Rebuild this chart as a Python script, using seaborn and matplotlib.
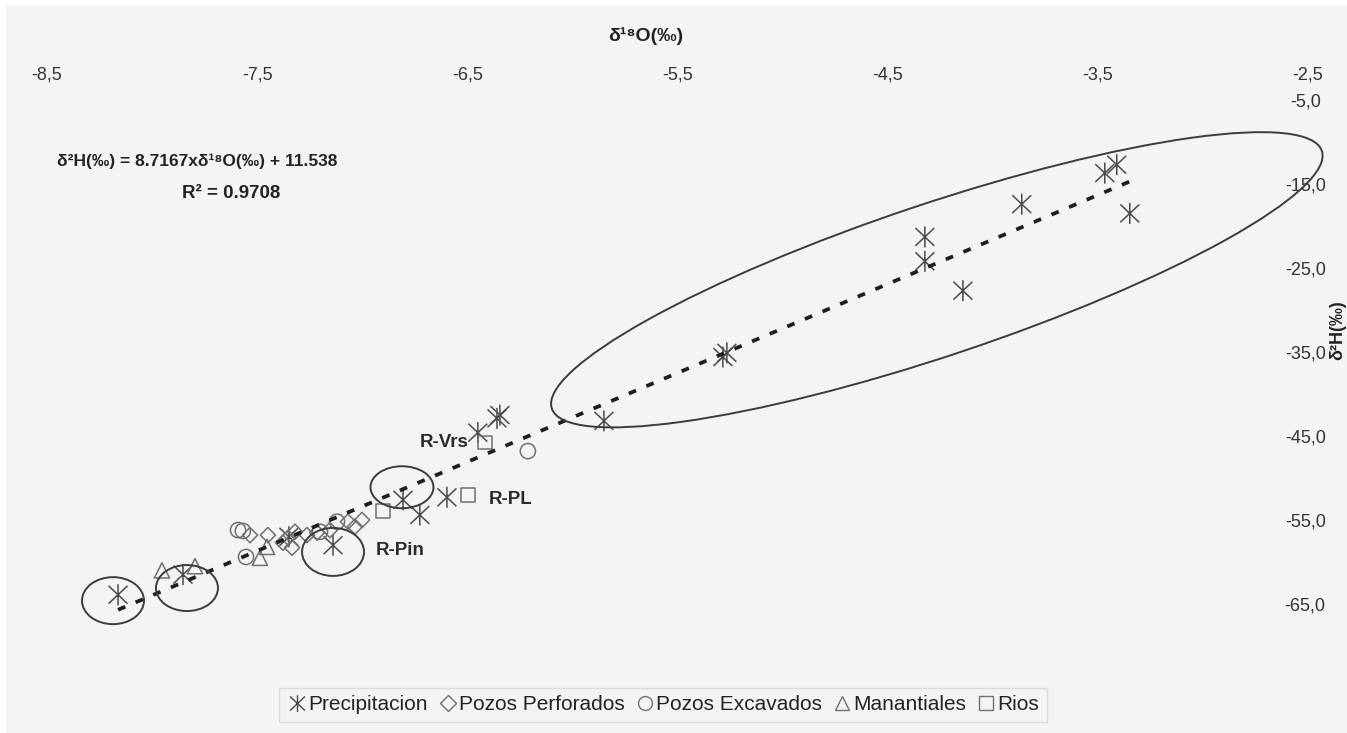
import numpy as np
import pandas as pd
import matplotlib
matplotlib.use("Agg")
import matplotlib.pyplot as plt
import seaborn as sns
from matplotlib.path import Path
from matplotlib.patches import Ellipse, Rectangle
import matplotlib.transforms as mtransforms
from matplotlib.ticker import FuncFormatter, FixedLocator

# ---------------- data ----------------
precip_x = [-8.162, -7.853, -7.349, -7.139, -6.806, -6.726, -6.597, -6.450, -6.359, -6.345,
            -5.850, -5.284, -5.265, -4.323, -4.323, -4.142, -3.862, -3.467, -3.410, -3.348]
precip_y = [-63.9, -61.5, -57.0, -58.0, -52.6, -54.4, -52.3, -44.6, -42.9, -42.5,
            -43.2, -35.6, -35.1, -21.3, -24.2, -27.7, -17.4, -13.7, -12.7, -18.5]

perf_x = [-7.534, -7.449, -7.377, -7.353, -7.320, -7.334, -7.263, -7.215, -7.154, -7.068, -7.001, -7.035]
perf_y = [-56.8, -56.8, -57.7, -57.1, -56.4, -58.3, -56.8, -56.5, -56.2, -55.2, -55.0, -55.8]

exc_x = [-7.591, -7.568, -7.553, -7.201, -7.120, -6.212]
exc_y = [-56.2, -56.3, -59.4, -56.4, -55.2, -46.8]

man_x = [-7.953, -7.796, -7.487, -7.453]
man_y = [-61.0, -60.5, -59.5, -58.2]

rios_x = [-6.416, -6.901, -6.497]
rios_y = [-45.8, -53.9, -52.0]

series_names = ["Precipitacion", "Pozos Perforados", "Pozos Excavados", "Manantiales", "Rios"]

eq_slope = "8.7167"
eq_intercept = "11.538"
r_squared = "0.9708"

x_ticks = [-8.5, -7.5, -6.5, -5.5, -4.5, -3.5, -2.5]
y_ticks = [-65.0, -55.0, -45.0, -35.0, -25.0, -15.0, -5.0]

# highlighted groups (centre in data units)
small_ellipse_x = [-8.186, -7.834, -7.139, -6.811]
small_ellipse_y = [-64.6, -63.1, -58.8, -51.1]
big_ellipse_center = (-4.266, -26.4)

site_labels = ["R-Vrs", "R-PL", "R-Pin"]
site_label_x = [-6.611, -6.293, -6.821]
site_label_y = [-45.8, -52.6, -58.6]

# ---------------- style ----------------
sns.set_theme(style="white")
plt.rcParams["font.family"] = ["Liberation Sans", "DejaVu Sans"]

W, H = 1347, 733
BG = "#f4f4f4"
fig = plt.figure(figsize=(W / 100, H / 100), dpi=100, facecolor="white")
fig.patches.append(Rectangle((6 / W, 0), 1, 1 - 5 / H, transform=fig.transFigure,
                             facecolor=BG, edgecolor="none", zorder=-10))

ax = fig.add_axes([47 / W, 1 - 604 / H, (1308 - 47) / W, (604 - 100) / H])
ax.set_facecolor("none")

# asterisk marker like the spreadsheet one
ast = Path([(0, -1), (0, 1), (-0.9, -0.85), (0.9, 0.85), (-0.9, 0.85), (0.9, -0.85)],
           [Path.MOVETO, Path.LINETO, Path.MOVETO, Path.LINETO, Path.MOVETO, Path.LINETO])

grey = "#707070"
frames = [
    (pd.DataFrame({"x": precip_x, "y": precip_y}), ast, 230, "#4a4a4a", 12),
    (pd.DataFrame({"x": perf_x, "y": perf_y}), "D", 60, grey, 8),
    (pd.DataFrame({"x": exc_x, "y": exc_y}), "o", 120, grey, 10),
    (pd.DataFrame({"x": man_x, "y": man_y}), "^", 120, grey, 10),
    (pd.DataFrame({"x": rios_x, "y": rios_y}), "s", 95, grey, 9.5),
]
handles = []
for (df, mk, s, col, lms), name in zip(frames, series_names):
    sns.scatterplot(data=df, x="x", y="y", marker=mk, s=s, facecolor="none",
                    edgecolor=col, linewidth=1.1, ax=ax, zorder=3, clip_on=False)
    handles.append(plt.Line2D([], [], linestyle="none", marker=mk, markersize=lms,
                              markerfacecolor="none", markeredgecolor=col, markeredgewidth=1.0))

# linear trend over all samples
all_x = np.array(precip_x + perf_x + exc_x + man_x + rios_x)
all_y = np.array(precip_y + perf_y + exc_y + man_y + rios_y)
sns.regplot(x=all_x, y=all_y, scatter=False, ci=None, truncate=True, ax=ax,
            line_kws=dict(color="#1e1e1e", linewidth=2.7, zorder=4, clip_on=False))
ax.lines[-1].set_dashes((2.1, 3.0))

# ellipses (size in pixels)
def add_ellipse(xc, yc, wpx, hpx, ang=0):
    tr = fig.dpi_scale_trans + mtransforms.ScaledTranslation(xc, yc, ax.transData)
    ax.add_patch(Ellipse((0, 0), wpx / 100, hpx / 100, angle=ang, transform=tr,
                         fill=False, edgecolor="#3c3c3c", linewidth=1.4, zorder=5,
                         clip_on=False))

for (xc, yc), (wp, hp) in zip(zip(small_ellipse_x, small_ellipse_y),
                              [(62, 47), (62, 46), (62, 48), (63, 42)]):
    add_ellipse(xc, yc, wp, hp)
add_ellipse(big_ellipse_center[0], big_ellipse_center[1], 812, 152, 18.5)

for t, x, y in zip(site_labels, site_label_x, site_label_y):
    ax.text(x, y, t, fontsize=13.5, fontweight="bold", color="#2b2b2b", ha="center", va="center")

# axes
ax.set_xlim(-8.5, -2.5)
ax.set_ylim(-65, -5)
ax.xaxis.tick_top()
ax.yaxis.tick_right()
ax.xaxis.set_major_locator(FixedLocator(x_ticks))
ax.yaxis.set_major_locator(FixedLocator(y_ticks))
fmt = FuncFormatter(lambda v, p: f"{v:.1f}".replace(".", ","))
ax.xaxis.set_major_formatter(fmt)
ax.yaxis.set_major_formatter(fmt)
ax.tick_params(axis="both", length=0, labelsize=13, labelcolor="#333333")
ax.tick_params(axis="x", pad=12)
ax.tick_params(axis="y", pad=-2)
for lab in ax.get_yticklabels():
    lab.set_horizontalalignment("center")
for sp in ax.spines.values():
    sp.set_visible(False)
ax.set_xlabel("")
ax.set_ylabel("")

fig.text(646 / W, 1 - 36 / H, "δ¹⁸O(‰)", fontsize=14, fontweight="bold", color="#222222",
         ha="center", va="center")
fig.text(1338 / W, 1 - 330 / H, "δ²H(‰)", fontsize=13, fontweight="bold", color="#222222",
         ha="center", va="center", rotation=90)

fig.text(197 / W, 1 - 161 / H,
         f"δ²H(‰) = {eq_slope}xδ¹⁸O(‰) + {eq_intercept}",
         fontsize=12.5, fontweight="bold", color="#222222", ha="center", va="center")
fig.text(231 / W, 1 - 193 / H, f"R² = {r_squared}",
         fontsize=13.5, fontweight="bold", color="#222222", ha="center", va="center")

leg = fig.legend(handles, series_names, loc="center", bbox_to_anchor=(663 / W, 1 - 705 / H),
                 ncol=5, frameon=True, fancybox=False, edgecolor="#d6d6d6", facecolor=BG,
                 fontsize=15, handletextpad=0.05, columnspacing=0.45, borderpad=0.35,
                 handlelength=1.0)
leg.get_frame().set_linewidth(1.0)
for t in leg.get_texts():
    t.set_color("#222222")

fig.savefig("out.png", dpi=100, facecolor=fig.get_facecolor())
